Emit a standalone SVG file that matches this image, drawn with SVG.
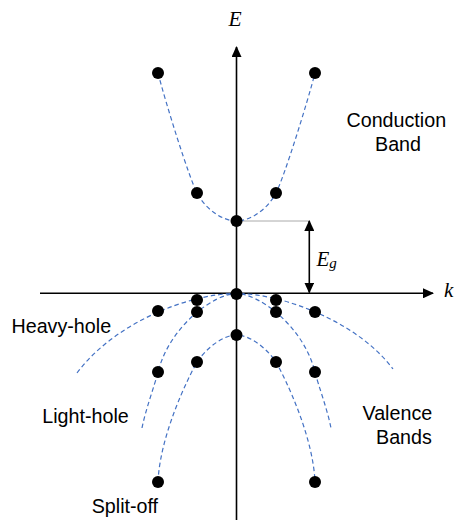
<svg xmlns="http://www.w3.org/2000/svg" width="454" height="520" viewBox="0 0 454 520">
<style>
.band{fill:none;stroke:#4472C4;stroke-width:1.2;stroke-dasharray:4.5 3}
.axis{stroke:#000;stroke-width:1.6;fill:none}
.dot{fill:#000}
.lbl{font-family:"Liberation Sans",Arial,sans-serif;font-size:19.7px;fill:#000}
.math{font-family:"Liberation Serif","Times New Roman",serif;font-style:italic;fill:#000}
</style>
<defs>
<marker id="ah" markerUnits="userSpaceOnUse" markerWidth="11" markerHeight="10" refX="10" refY="5" orient="auto-start-reverse" viewBox="0 0 11 10">
<path d="M0,0 L11,5 L0,10 Z" fill="#000"/>
</marker>
</defs>
<rect width="454" height="520" fill="#fff"/>
<g id="connectors">
<line class="axis" x1="236.5" y1="520" x2="236.5" y2="47" marker-end="url(#ah)"/>
<line class="axis" x1="40" y1="293.3" x2="433" y2="293.3" marker-end="url(#ah)"/>
<line x1="236.5" y1="221" x2="309.3" y2="221" stroke="#555" stroke-width="1" stroke-dasharray="1 1"/>
<line class="axis" x1="309.3" y1="221" x2="309.3" y2="292.5" marker-start="url(#ah)" marker-end="url(#ah)"/>
</g>
<g id="conduction-band">
<path class="band" d="M158,73 C166,104 189,177.5 197,193 C205,208.5 222,221 236.5,221 C251,221 268,208.5 276,193 C284,177.5 307,104 315,73"/>
</g>
<g id="heavy-hole-band">
<path class="band" d="M77,373 C115,322 190,293.5 236.5,293.5 C283,293.5 358,322 393,369"/>
</g>
<g id="light-hole-band">
<path class="band" d="M142,428 C146,408 154.5,386 158,372 C170,325 215,293.5 236.5,293.5 C258,293.5 303,325 315,372 C318.5,386 327,408 331,428"/>
</g>
<g id="split-off-band">
<path class="band" d="M158,482 C160,435 188,378 197,362 C205,350 222,335 236.5,335 C251,335 268,350 276,362 C285,378 313,435 315,482"/>
</g>
<g id="points">
<circle class="dot" cx="158" cy="73" r="6"/>
<circle class="dot" cx="315" cy="73" r="6"/>
<circle class="dot" cx="197" cy="193" r="6"/>
<circle class="dot" cx="276" cy="193" r="6"/>
<circle class="dot" cx="236.5" cy="221" r="6"/>
<circle class="dot" cx="236.5" cy="294" r="6"/>
<circle class="dot" cx="197" cy="300" r="6"/>
<circle class="dot" cx="276" cy="300" r="6"/>
<circle class="dot" cx="197" cy="312" r="6"/>
<circle class="dot" cx="276" cy="312" r="6"/>
<circle class="dot" cx="158" cy="311" r="6"/>
<circle class="dot" cx="315" cy="312" r="6"/>
<circle class="dot" cx="236.5" cy="335" r="6"/>
<circle class="dot" cx="197" cy="362" r="6"/>
<circle class="dot" cx="276" cy="362" r="6"/>
<circle class="dot" cx="158" cy="372" r="6"/>
<circle class="dot" cx="315" cy="372" r="6"/>
<circle class="dot" cx="158" cy="482" r="6"/>
<circle class="dot" cx="315" cy="482" r="6"/>
</g>
<g id="labels">
<text class="math" x="228.5" y="25.5" font-size="21.5">E</text>
<text class="math" x="444" y="297" font-size="21">k</text>
<text class="math" x="316.5" y="266" font-size="21">E<tspan font-size="15" dy="2">g</tspan></text>
<text class="lbl" x="346.5" y="126.5">Conduction</text>
<text class="lbl" x="375" y="150.5">Band</text>
<text class="lbl" x="11.5" y="332.5">Heavy-hole</text>
<text class="lbl" x="42.3" y="423">Light-hole</text>
<text class="lbl" x="362.5" y="420">Valence</text>
<text class="lbl" x="376" y="443.5">Bands</text>
<text class="lbl" x="91.7" y="512.5">Split-off</text>
</g>
</svg>
